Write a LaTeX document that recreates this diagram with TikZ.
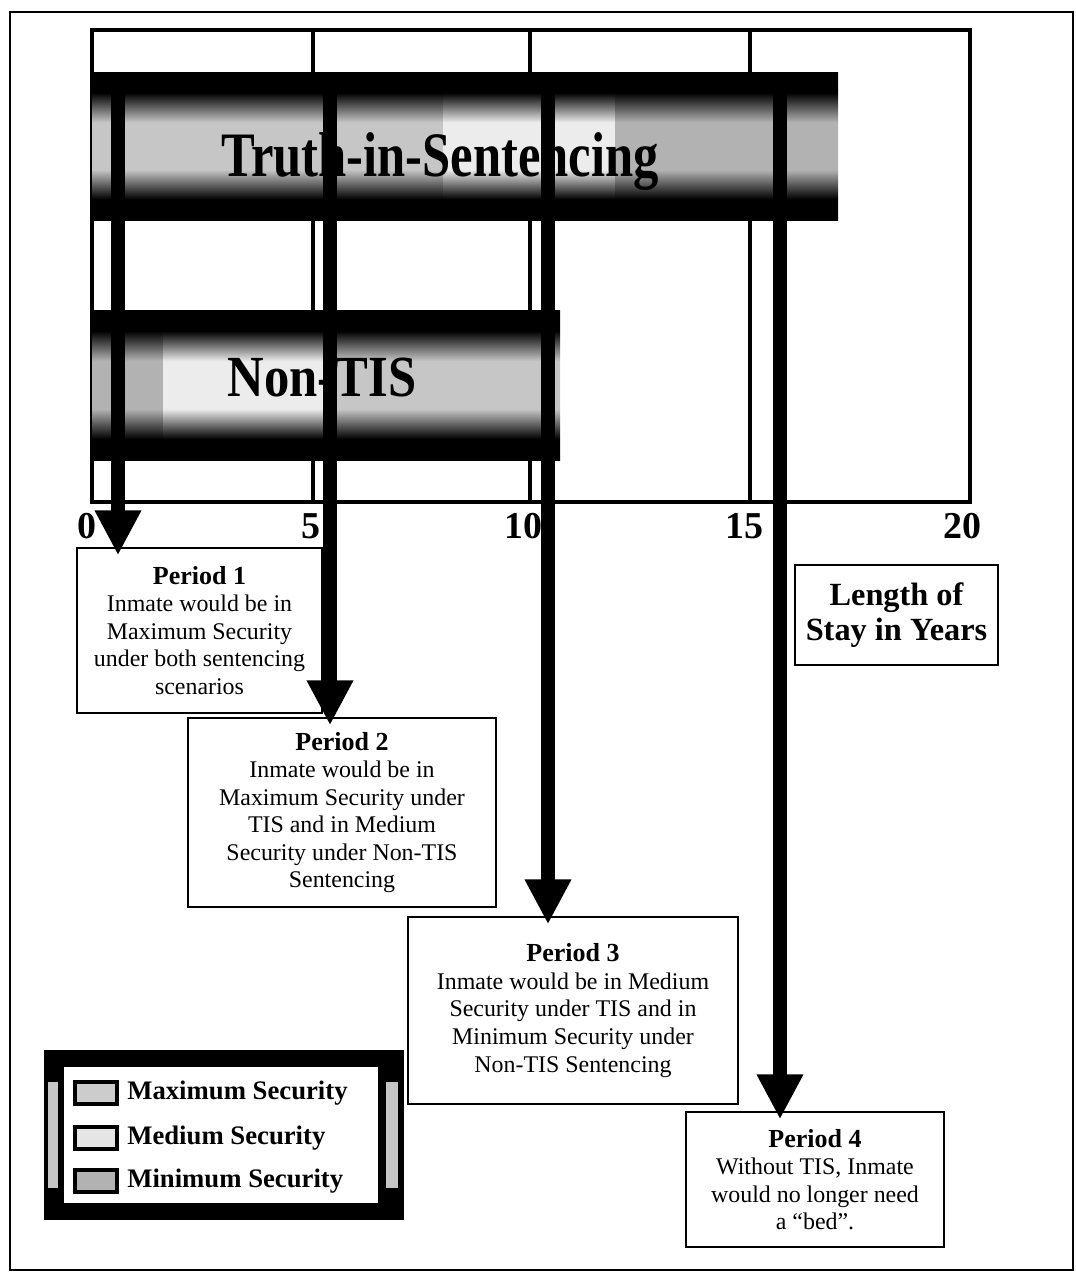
\documentclass[tikz,border=0pt]{standalone}
\usepackage{fontspec}
\setmainfont{Liberation Serif}
\usetikzlibrary{arrows.meta}

\pgfdeclareverticalshading{maxsec}{100bp}{color(0bp)=(black); color(32bp)=(black); color(42bp)=(gray!45); color(58bp)=(gray!45); color(68bp)=(black); color(100bp)=(black)}
\pgfdeclareverticalshading{medsec}{100bp}{color(0bp)=(black); color(32bp)=(black); color(42bp)=(gray!15); color(58bp)=(gray!15); color(68bp)=(black); color(100bp)=(black)}
\pgfdeclareverticalshading{minsec}{100bp}{color(0bp)=(black); color(32bp)=(black); color(42bp)=(gray!60); color(58bp)=(gray!60); color(68bp)=(black); color(100bp)=(black)}

\begin{document}
\begin{tikzpicture}[x=0.025cm,y=-0.025cm,
    periodbox/.style={draw,line width=1.6pt,align=center,fill=white,
      font=\fontsize{17}{19.6}\selectfont},
    bigarrow/.style={line width=10.5pt,-{Triangle[width=31pt,length=32pt]},shorten >=-6pt},
    gridline/.style={line width=3.5pt},
    bartext/.style={font=\fontsize{36}{40}\selectfont\bfseries}]
    \useasboundingbox (0,0) rectangle (1076,1272);
    \draw[line width=1.5pt] (10,12) rectangle (1073,1270);

    \draw[line width=3pt] (92,30) rectangle (970,502);
    \foreach \x in {313,530,750}{
      \draw[gridline] (\x,30) -- (\x,502);
    }
    \foreach \v/\x in {0/97,5/321,10/543,15/764,20/982}{
      \node[anchor=base east,inner sep=0pt,font=\fontsize{27}{30}\selectfont\bfseries]
        (n\v) at (\x,538) {\v};
    }

    \foreach \a/\b/\s in {92/443/maxsec,443/615/medsec,615/838/minsec}{
      \shade[shading=\s] (\a,72) rectangle (\b,220);
    }
    \node[bartext] (tis) at (440,162) {\scalebox{1}[1.25]{Truth-in-Sentencing}};

    \foreach \a/\b/\s in {92/163/minsec,163/335/medsec,335/560/maxsec}{
      \shade[shading=\s] (\a,310) rectangle (\b,460);
    }
    \node[bartext] (nontis) at (322,378) {\scalebox{1}[1.15]{Non-TIS}};

    \node[periodbox,minimum width=6.125cm,minimum height=4.125cm] (p1) at (199.5,630.5)
      {\textbf{\fontsize{18.5}{19.6}\selectfont Period 1}\\Inmate would be in\\Maximum Security\\under both sentencing\\scenarios};
    \node[periodbox,minimum width=7.7cm,minimum height=4.725cm] (p2) at (342,812.5)
      {\textbf{\fontsize{18.5}{19.6}\selectfont Period 2}\\Inmate would be in\\Maximum Security under\\TIS and in Medium\\Security under Non-TIS\\Sentencing};
    \node[periodbox,minimum width=8.25cm,minimum height=4.675cm] (p3) at (573,1010.5)
      {\textbf{\fontsize{18.5}{19.6}\selectfont Period 3}\\Inmate would be in Medium\\Security under TIS and in\\Minimum Security under\\Non-TIS Sentencing};
    \node[periodbox,minimum width=6.45cm,minimum height=3.375cm] (p4) at (815,1179.5)
      {\textbf{\fontsize{18.5}{19.6}\selectfont Period 4}\\Without TIS, Inmate\\would no longer need\\a ``bed''.};
    \node[draw,line width=1.6pt,minimum width=5.075cm,minimum height=2.5cm,align=center,
      font=\fontsize{23}{25}\selectfont\bfseries] (los) at (896.5,615) {Length of\\Stay in Years};

    \coordinate (s1) at (118,72);
    \coordinate (s2) at (330,72);
    \coordinate (s3) at (548,72);
    \coordinate (s4) at (780,72);
    \draw[bigarrow] (s1) -- (s1 |- p1.north);
    \draw[bigarrow] (s2) -- (s2 |- p2.north);
    \draw[bigarrow] (s3) -- (s3 |- p3.north);
    \draw[bigarrow] (s4) -- (s4 |- p4.north);

    \fill (44,1050) rectangle (404,1220);
    \fill[gray!45] (48,1082) rectangle (58,1188);
    \fill[gray!45] (386,1082) rectangle (398,1188);
    \fill[white] (64,1067) rectangle (378,1203);
    \foreach \y/\c/\t [count=\i] in {1093/gray!40/Maximum Security,
        1138/gray!20/Medium Security,1181/gray!60/Minimum Security}{
      \draw[fill=\c,line width=2.5pt] (75,\y-11) rectangle (117,\y+11);
      \node[anchor=west,inner sep=0pt,font=\fontsize{19}{22}\selectfont\bfseries]
        (leg\i) at (127,\y) {\t};
    }
\end{tikzpicture}
\end{document}
